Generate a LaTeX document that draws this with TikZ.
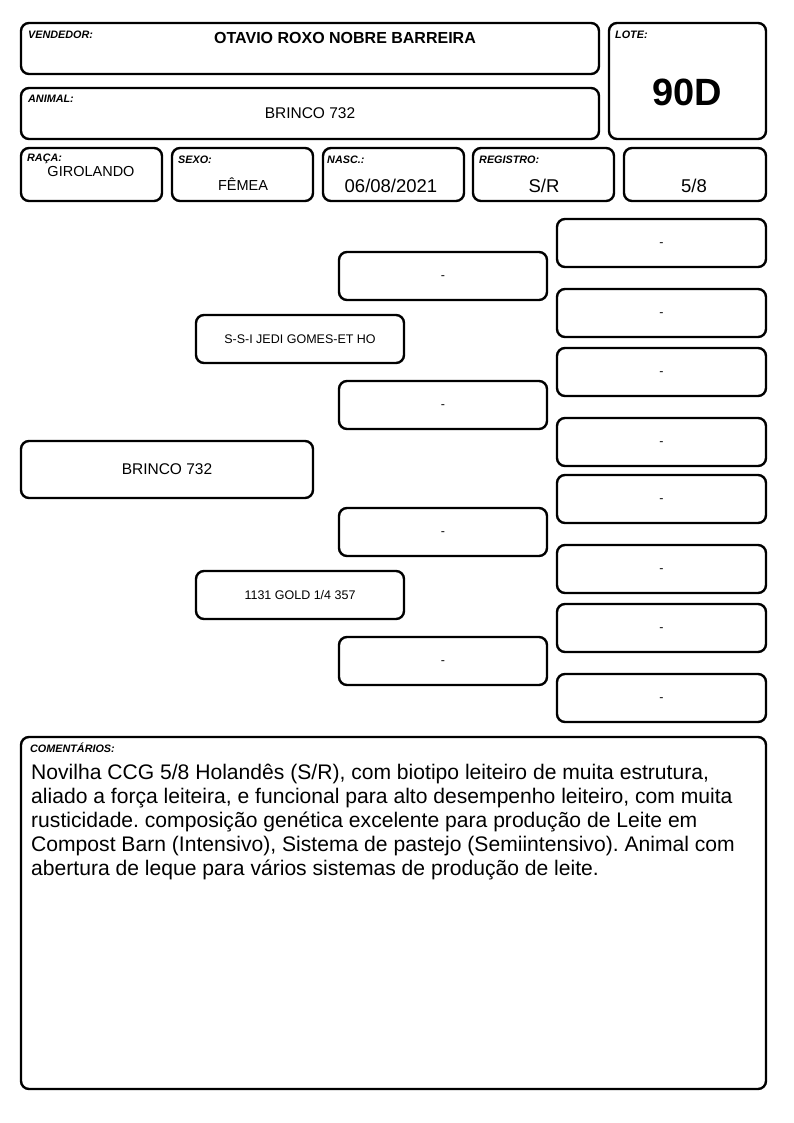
\documentclass[tikz,border=0pt]{standalone}
\usepackage{fontspec}
\setmainfont{Liberation Sans}
\frenchspacing
\newcommand\bx[6]{\node[box, minimum width={#4-#2}, minimum height={#5-#3}] (#1) at ({(#2+#4)/2},{(#3+#5)/2}) {#6};}
\newcommand\dsh{\raisebox{-3pt}[0pt][0pt]{-}}
\begin{document}
\begin{tikzpicture}[x=1pt,y=-1pt,
  box/.style={draw, line width=2.4pt, rounded corners=8pt, inner sep=0pt, font=\fontsize{12.5}{14}\selectfont},
  lbl/.style={font=\fontsize{10.8}{12}\selectfont\bfseries\itshape, anchor=north west, inner sep=0pt},
  val/.style={inner sep=0pt, anchor=center}]
\useasboundingbox (0,0) rectangle (794,1123);
% header
\bx{vend}{21}{23}{599}{74}{}
\bx{anim}{21}{88}{599}{139}{}
\bx{lote}{609}{23}{766}{139}{}
\bx{raca}{21}{148}{162}{201}{}
\bx{sexo}{172}{148}{313}{201}{}
\bx{nasc}{323}{148}{464}{201}{}
\bx{reg}{473}{148}{614}{201}{}
\bx{grau}{624}{148}{766}{201}{}
\node[lbl] (lv) at (28,31) {VENDEDOR:};
\node[val, font=\fontsize{16}{18}\selectfont\bfseries] (tv) at (345,38) {OTAVIO ROXO NOBRE BARREIRA};
\node[lbl] (la) at (28,95) {ANIMAL:};
\node[val, font=\fontsize{15.5}{18}\selectfont] (ta) at (310,113) {BRINCO 732};
\node[lbl] (ll) at (615,31) {LOTE:};
\node[val, font=\fontsize{38}{40}\selectfont\bfseries] (tl) at (687,92) {90D};
\node[lbl] (lr) at (27,154) {RAÇA:};
\node[val, font=\fontsize{14.5}{16}\selectfont] (tr) at (91,172) {GIROLANDO};
\node[lbl] (ls) at (178,156) {SEXO:};
\node[val, font=\fontsize{14.5}{16}\selectfont] (ts) at (243,184) {FÊMEA};
\node[lbl] (ln) at (327,156) {NASC.:};
\node[val, font=\fontsize{18.5}{20}\selectfont] (tn) at (391,186) {06/08/2021};
\node[lbl] (lg) at (479,156) {REGISTRO:};
\node[val, font=\fontsize{18.5}{20}\selectfont] (tg) at (544,186) {S/R};
\node[val, font=\fontsize{18.5}{20}\selectfont] (tq) at (694,186) {5/8};
% pedigree
\bx{p0}{21}{441}{313}{498}{\fontsize{15.5}{18}\selectfont BRINCO 732}
\bx{p1}{196}{315}{404}{363}{S-S-I JEDI GOMES-ET HO}
\bx{p2}{196}{571}{404}{619}{1131 GOLD 1/4 357}
\bx{p11}{339}{252}{547}{300}{\dsh}
\bx{p12}{339}{381}{547}{429}{\dsh}
\bx{p21}{339}{508}{547}{556}{\dsh}
\bx{p22}{339}{637}{547}{685}{\dsh}
\bx{q1}{557}{219}{766}{267}{\dsh}
\bx{q2}{557}{289}{766}{337}{\dsh}
\bx{q3}{557}{348}{766}{396}{\dsh}
\bx{q4}{557}{418}{766}{466}{\dsh}
\bx{q5}{557}{475}{766}{523}{\dsh}
\bx{q6}{557}{545}{766}{593}{\dsh}
\bx{q7}{557}{604}{766}{652}{\dsh}
\bx{q8}{557}{674}{766}{722}{\dsh}
% comments
\bx{com}{21}{737}{766}{1089}{}
\node[lbl] (lc) at (30,743) {COMENTÁRIOS:};
\node[anchor=north west, inner sep=0pt, align=left, font=\fontsize{21.1}{24}\selectfont] (tc) at (31,764) {Novilha CCG 5/8 Holandês (S/R), com biotipo leiteiro de muita estrutura,\\
aliado a força leiteira, e funcional para alto desempenho leiteiro, com muita\\
rusticidade. composição genética excelente para produção de Leite em\\
Compost Barn (Intensivo), Sistema de pastejo (Semiintensivo). Animal com\\
abertura de leque para vários sistemas de produção de leite.};
\end{tikzpicture}
\end{document}
